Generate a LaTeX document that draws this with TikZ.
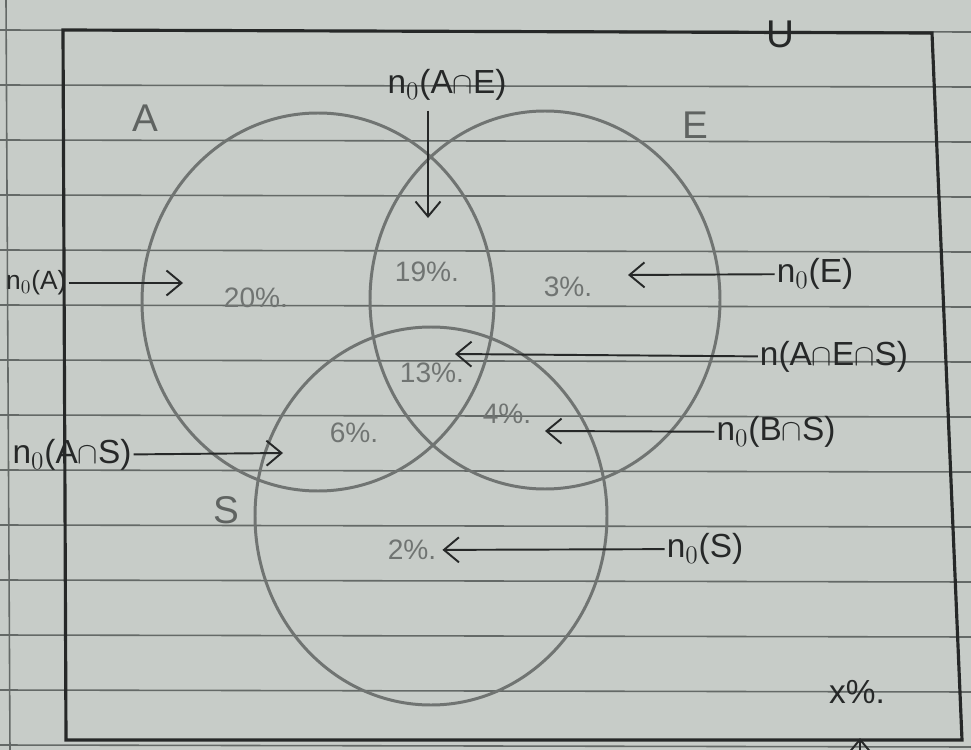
\documentclass[tikz,border=0pt]{standalone}
\usepackage{fontspec}
\setmainfont{Liberation Sans}
\usetikzlibrary{arrows.meta, positioning}
\definecolor{paper}{RGB}{199,204,200}
\definecolor{rule}{RGB}{100,105,103}
\definecolor{pencil}{RGB}{112,116,114}
\definecolor{ink}{RGB}{38,40,40}
\tikzstyle{setc} = [draw=pencil, line width=1.7pt]
\tikzstyle{setname} = [text=pencil!85!black, 
font=\fontsize{22}{24}\selectfont]
\tikzstyle{pct} = [text=pencil, 
font=\fontsize{16}{18}\selectfont]
\tikzstyle{tag} = [text=ink, 
inner sep=1pt, 
font=\fontsize{19}{21}\selectfont]
\tikzstyle{arrow} = [ink, line width=1.1pt, -{Straight Barb[length=3mm,width=5mm]}]

\begin{document}
\begin{tikzpicture}[x=0.02cm, y=-0.02cm]

% paper
\fill [paper] (0,0) rectangle (971,750);
\useasboundingbox (0,0) rectangle (971,750);
\foreach \ry in {30,85,...,745}
  \draw [rule, line width=0.9pt] (0,\ry) -- (971,\ry+2);
\draw [rule, line width=0.9pt] (6,0) -- (10,750);

% universal set
\draw [ink, line width=1.8pt] (63,30) -- (932,33) -- (962,740) -- (66,740) -- cycle;
\node (U) [setname, text=ink] at (780,34) {U};

% the three sets
\draw [setc] (318,302) ellipse [x radius=176, y radius=189];
\draw [setc] (545,300) ellipse [x radius=175, y radius=189];
\draw [setc] (431,516) ellipse [x radius=176, y radius=189];
\node (Alab) [setname] at (145,118) {A};
\node (Elab) [setname] at (695,125) {E};
\node (Slab) [setname] at (226,510) {S};

% regions
\node (p20) [pct] at (256,298) {20\%.};
\node (p19) [pct] at (427,272) {19\%.};
\node (p3) [pct] at (568,287) {3\%.};
\node (p13) [pct] at (432,373) {13\%.};
\node (p6) [pct] at (354,433) {6\%.};
\node (p4) [pct] at (507,414) {4\%.};
\node (p2) [pct] at (412,550) {2\%.};
\node (px) [tag] at (857,692) {x\%.};

% labels
\node (nAE) [tag] at (447,85) {n$_0$(A$\cap$E)};
\node (nA) [tag, anchor=west, font=\fontsize{15}{17}\selectfont] at (4,283) {n$_0$(A)};
\node (nE) [tag] at (815,274) {n$_0$(E)};
\node (nAES) [tag] at (834,357) {n(A$\cap$E$\cap$S)};
\node (nAS) [tag] at (72,455) {n$_0$(A$\cap$S)};
\node (nBS) [tag] at (776,432) {n$_0$(B$\cap$S)};
\node (nS) [tag] at (705,549) {n$_0$(S)};

\coordinate (tAE) at (428,218);
\coordinate (tA) at (183,283);
\coordinate (tE) at (628,275);
\coordinate (tAES) at (455,354);
\coordinate (tAS) at (283,453);
\coordinate (tBS) at (545,431);
\coordinate (xbot) at (860,775);
\coordinate (tx) at (860,738);

\draw [arrow] (tAE |- nAE.south) ++(0,8) -- (tAE);
\draw [arrow] (nA) -- (tA);
\draw [arrow] (nE) -- (tE);
\draw [arrow] (nAES) -- (tAES);
\draw [arrow] (nAS) -- (tAS);
\draw [arrow] (nBS) -- (tBS);
\draw [arrow] (nS) -- (p2);
\draw [arrow] (xbot) -- (tx);

\end{tikzpicture}
\end{document}
